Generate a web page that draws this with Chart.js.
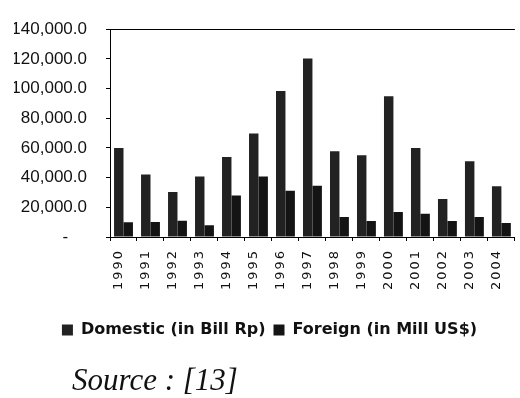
<!DOCTYPE html>
<html>
<head>
<meta charset="utf-8">
<script src="https://cdn.jsdelivr.net/npm/chart.js@4"></script>
<style>
  html, body { margin: 0; padding: 0; background: #fff; overflow: hidden; }
  #wrap { position: relative; width: 520px; height: 398px; overflow: hidden; }
  #chart { position: absolute; left: 0; top: 0; }
  #source {
    position: absolute; left: 72px; top: 362px;
    font: italic 31px "Liberation Serif", "Times New Roman", serif;
    color: #111; white-space: nowrap;
  }
</style>
</head>
<body>
<div id="wrap">
  <canvas id="chart" width="525" height="398" style="width:525px;height:398px"></canvas>
  <div id="source">Source : [13]</div>
</div>
<script>
  const years = ["1990", "1991", "1992", "1993", "1994", "1995", "1996", "1997",
                 "1998", "1999", "2000", "2001", "2002", "2003", "2004"];
  // Domestic investment, billion Rp
  const domestic = [59900, 42100, 30300, 40800, 53900, 69700, 98400, 120300,
                    57800, 55000, 94900, 60000, 25600, 51000, 34200];
  // Foreign investment, million US$
  const foreign = [10000, 10100, 11000, 7900, 28000, 40700, 31100, 34600,
                   13400, 10700, 16900, 15600, 10700, 13400, 9400];
  const yMax = 140000;
  const yStep = 20000;

  function fmt(v) {
    if (v === 0) return "-    ";
    return v.toLocaleString("en-US", { minimumFractionDigits: 1, maximumFractionDigits: 1 });
  }

  // year labels are drawn with wide letter spacing
  const spacedLabels = {
    id: "spacedLabels",
    afterUpdate(chart) {
      const xs = chart.scales.x;
      if (xs._spaced) return;
      const draw = xs.drawLabels;
      xs.drawLabels = function (area) {
        const c = this.ctx;
        c.save();
        c.letterSpacing = "2px";
        draw.call(this, area);
        c.restore();
      };
      xs._spaced = true;
    },
  };

  new Chart(document.getElementById("chart"), {
    type: "bar",
    data: {
      labels: years,
      datasets: [
        {
          label: "Domestic (in Bill Rp)",
          data: domestic,
          backgroundColor: "#222222",
          categoryPercentage: 0.7,
          barPercentage: 1,
        },
        {
          label: "Foreign (in Mill US$)",
          data: foreign,
          backgroundColor: "#141414",
          categoryPercentage: 0.7,
          barPercentage: 1,
        },
      ],
    },
    options: {
      responsive: false,
      animation: false,
      layout: { padding: { top: 24, right: 0, bottom: 50, left: 14 } },
      plugins: {
        legend: {
          position: "bottom",
          labels: {
            boxWidth: 11,
            boxHeight: 11,
            padding: 8,
            color: "#111",
            font: { family: "DejaVu Sans", weight: "bold", size: 16 },
          },
        },
        tooltip: { enabled: false },
      },
      scales: {
        x: {
          grid: { drawOnChartArea: false, offset: true, tickLength: 4, tickColor: "#000" },
          border: { color: "#000", width: 1 },
          ticks: {
            minRotation: 90,
            maxRotation: 90,
            labelOffset: -5,
            padding: 8,
            color: "#111",
            font: { family: "DejaVu Sans", size: 13 },
          },
          afterFit(scale) { scale.height = 77; },
        },
        y: {
          min: 0,
          max: yMax,
          grid: {
            color: (ctx) => (ctx.tick && ctx.tick.value === yMax ? "#000" : "rgba(0,0,0,0)"),
            tickColor: "#000",
            tickLength: 4,
          },
          border: { color: "#000", width: 1 },
          ticks: {
            stepSize: yStep,
            padding: 19,
            color: "#111",
            font: { family: "Liberation Sans", size: 17 },
            callback: (v) => fmt(v),
          },
          afterFit(scale) { scale.width = 96; },
        },
      },
    },
    plugins: [spacedLabels],
  });
</script>
</body>
</html>
